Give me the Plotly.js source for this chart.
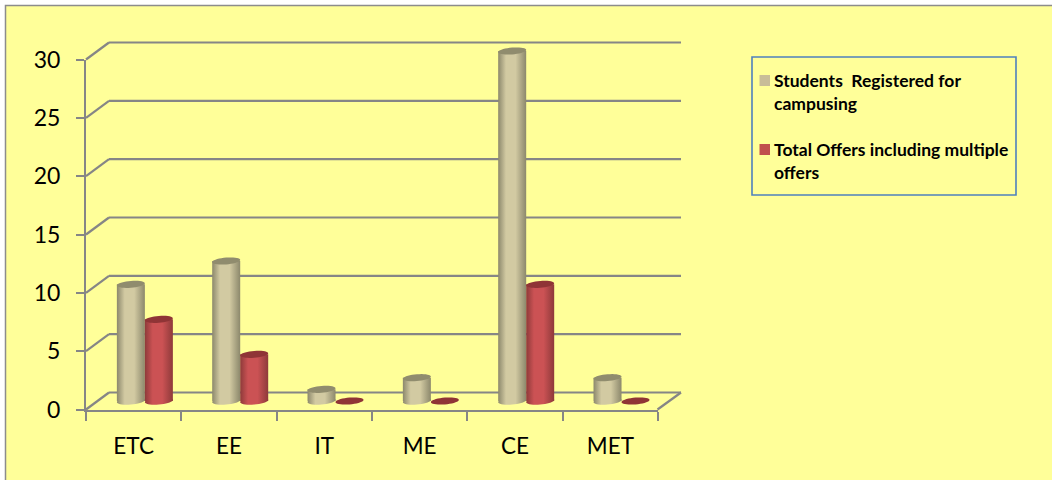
<!DOCTYPE html>
<html>
<head>
<meta charset="utf-8">
<script src="https://cdn.plot.ly/plotly-3.0.1.min.js"></script>
<style>html,body{margin:0;padding:0;background:#fff;overflow:hidden}</style>
</head>
<body>
<div id="chart" style="width:1052px;height:480px"></div>
<script>
const categories = ['ETC','EE','IT','ME','CE','MET'];
const students = [10,12,1,2,30,2];
const offers = [7,4,0,0,10,0];
const yTicks = [0,5,10,15,20,25,30];
const studentsName = 'Students  Registered for campusing';
const offersName = 'Total Offers including multiple offers';

const W = 1052, H = 480;
const GOLD = '#cfc7a0', RED = '#c8504f', GOLDTOP = '#908c6e', REDTOP = '#8f3436', GRID = '#868686';
const fx = p => p / W, fy = p => 1 - p / H;
const unitY = 350 / 30, catW = 95.33;
const barW = 28 / catW;

function ellipse(cx, v, rx, ry, tilt) {
  let d = '';
  for (let k = 0; k < 36; k++) {
    const t = k / 36 * 2 * Math.PI;
    const dx = rx * Math.cos(t), dy = ry * Math.sin(t) + tilt * Math.cos(t);
    d += (k ? 'L' : 'M') + (cx + dx / catW).toFixed(4) + ',' + (v + dy / unitY).toFixed(4);
  }
  return d + 'Z';
}

const shapes = [];
// frame
shapes.push({type:'rect',xref:'paper',yref:'paper',layer:'below',x0:fx(5.5),x1:1.02,y0:-0.02,y1:fy(5.5),
  fillcolor:'#FFFF99',line:{color:'#8c8c8c',width:1.5}});
// back wall gridlines and side-wall diagonals
yTicks.forEach(t => {
  const yF = 409.5 - t * unitY;
  shapes.push({type:'line',xref:'paper',yref:'paper',layer:'below',x0:fx(109),x1:fx(681),y0:fy(yF-17),y1:fy(yF-17),line:{color:GRID,width:2.2}});
  shapes.push({type:'line',xref:'paper',yref:'paper',layer:'below',x0:fx(86),x1:fx(109),y0:fy(yF),y1:fy(yF-17),line:{color:GRID,width:2.2}});
});
shapes.push({type:'line',xref:'paper',yref:'paper',layer:'below',x0:fx(657.5),x1:fx(681),y0:fy(409.5),y1:fy(392.5),line:{color:GRID,width:2.2}});
// cylinder ends
[[students,-1,GOLD,GOLDTOP],[offers,1,RED,REDTOP]].forEach(([vals,side,body,top]) => {
  vals.forEach((v,i) => {
    const cx = i + side * barW / 2;
    if (v > 0) shapes.push({type:'path',xref:'x',yref:'y',layer:'below',path:ellipse(cx,0,14,3.6,1.1),fillcolor:body,line:{width:0}});
    shapes.push({type:'path',xref:'x',yref:'y',layer:'above',path:ellipse(cx,v,14,3.4,1.1),fillcolor:top,line:{width:0}});
  });
});
// legend box and swatches
shapes.push({type:'rect',xref:'paper',yref:'paper',layer:'below',x0:fx(752),x1:fx(1016),y0:fy(195),y1:fy(57),fillcolor:'#FFFF99',line:{color:'#4f81bd',width:1.6}});
shapes.push({type:'rect',xref:'paper',yref:'paper',layer:'above',x0:fx(759.5),x1:fx(770),y0:fy(86),y1:fy(75),fillcolor:'#c8bd98',line:{width:0}});
shapes.push({type:'rect',xref:'paper',yref:'paper',layer:'above',x0:fx(759.5),x1:fx(770),y0:fy(155),y1:fy(144),fillcolor:'#c0504d',line:{width:0}});

const legendLines = [
  ['Students\u00A0 Registered for',80.5],['campusing',103],
  ['Total Offers including multiple',149],['offers',172]
];
const annotations = legendLines.map(([text,py]) => ({
  text, xref:'paper', yref:'paper', x:fx(771.5), y:fy(py), xanchor:'left', yanchor:'middle',
  showarrow:false, align:'left', font:{family:'Lato, sans-serif',size:17.5,color:'#000',weight:700}
}));

const traces = [
  {type:'bar',name:studentsName,x:categories,y:students,marker:{color:GOLD,line:{width:0}},xaxis:'x',yaxis:'y',hoverinfo:'x+y+name'},
  {type:'bar',name:offersName,x:categories,y:offers,marker:{color:RED,line:{width:0}},xaxis:'x',yaxis:'y',hoverinfo:'x+y+name'},
  {type:'scatter',mode:'markers',x:categories,y:categories.map(()=>0),marker:{opacity:0,size:1},xaxis:'x2',yaxis:'y2',hoverinfo:'skip',showlegend:false}
];

const layout = {
  width:W,height:H,margin:{l:0,r:0,t:0,b:0,pad:0},
  paper_bgcolor:'#fff',plot_bgcolor:'rgba(0,0,0,0)',showlegend:false,
  barmode:'group',bargap:1-56/catW,bargroupgap:0,
  font:{family:'Lato, sans-serif',color:'#000'},
  xaxis:{domain:[fx(97.2),fx(97.2+6*catW)],range:[-0.5,5.5],type:'category',categoryorder:'array',categoryarray:categories,visible:false,fixedrange:true},
  yaxis:{domain:[fy(401+unitY),fy(401-32*unitY)],range:[-1,32],visible:false,fixedrange:true,zeroline:false,showgrid:false},
  xaxis2:{domain:[fx(86),fx(86+6*catW)],range:[-0.5,5.5],type:'category',categoryorder:'array',categoryarray:categories,anchor:'y2',
    showline:true,linecolor:GRID,linewidth:2,ticks:'outside',ticklen:9,tickwidth:2,tickcolor:GRID,tickson:'boundaries',
    showgrid:false,zeroline:false,tickfont:{size:22.5,family:'Lato, sans-serif'},ticklabelstandoff:15,fixedrange:true},
  yaxis2:{domain:[fy(409.5),fy(59.5)],range:[0,30],anchor:'x2',tickvals:yTicks,
    showline:true,linecolor:GRID,linewidth:2,ticks:'outside',ticklen:8,tickwidth:2,tickcolor:GRID,
    showgrid:false,zeroline:false,tickfont:{size:23,family:'Lato, sans-serif'},ticklabelstandoff:11,fixedrange:true},
  shapes,annotations
};

function addGradient(svg,id,edge,mid) {
  const ns='http://www.w3.org/2000/svg';
  const defs = svg.querySelector('defs') || svg.insertBefore(document.createElementNS(ns,'defs'),svg.firstChild);
  const g = document.createElementNS(ns,'linearGradient');
  g.setAttribute('id',id);
  [[0,edge],[0.28,mid],[0.62,mid],[1,edge]].forEach(([o,c])=>{
    const s=document.createElementNS(ns,'stop');s.setAttribute('offset',o);s.setAttribute('stop-color',c);g.appendChild(s);
  });
  defs.appendChild(g);
}
function norm(c){const d=document.createElement('div');d.style.color=c;return d.style.color;}

Plotly.newPlot('chart',traces,layout,{displayModeBar:false,responsive:false}).then(gd=>{
  const svg = gd.querySelector('.main-svg');
  addGradient(svg,'gradGold','#8c886c','#d2caa2');
  addGradient(svg,'gradRed','#8e3a3a','#cb5254');
  const g=norm(GOLD), r=norm(RED);
  gd.querySelectorAll('.main-svg path').forEach(p=>{
    if(p.style.fill===g) p.style.fill='url(#gradGold)';
    else if(p.style.fill===r) p.style.fill='url(#gradRed)';
  });
});
</script>
</body>
</html>
